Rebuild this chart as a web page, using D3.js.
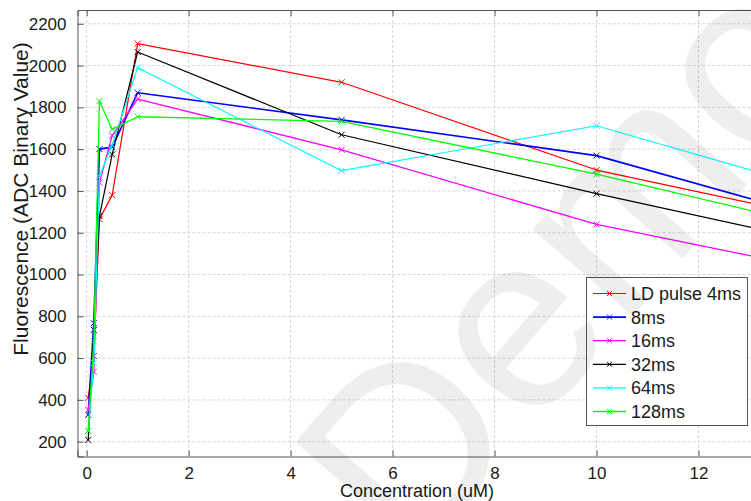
<!DOCTYPE html>
<html>
<head>
<meta charset="utf-8">
<script src="https://cdn.jsdelivr.net/npm/d3@7/dist/d3.min.js"></script>
<style>
  html, body { margin: 0; padding: 0; background: #fff; overflow: hidden; }
  svg { display: block; font-family: "Liberation Sans", Arial, sans-serif; }
</style>
</head>
<body>
<svg id="chart" width="751" height="501"></svg>
<script>
// ---- data ----
const concentrations = [0.03, 0.14, 0.25, 0.5, 1, 5, 10, 15];
const seriesNames = ["LD pulse 4ms", "8ms", "16ms", "32ms", "64ms", "128ms"];
const ld4ms   = [410, 610, 1265, 1380, 2105, 1920, 1500, 1238];
const ms8     = [328, 767, 1600, 1610, 1870, 1740, 1569, 1227];
const ms16    = [352, 535, 1440, 1665, 1840, 1597, 1240, 991];
const ms32    = [208, 735, 1280, 1575, 2065, 1669, 1387, 1121];
const ms64    = [251, 577, 1470, 1620, 1990, 1497, 1712, 1362];
const ms128   = [251, 680, 1830, 1695, 1755, 1733, 1480, 1193];
const xTickValues = [0, 2, 4, 6, 8, 10, 12];
const yTickValues = [200, 400, 600, 800, 1000, 1200, 1400, 1600, 1800, 2000, 2200];
const xLabel = "Concentration (uM)";
const yLabel = "Fluorescence (ADC Binary Value)";
const watermark = "Demo";

// ---- styles ----
const seriesColors = ["#ff0000", "#0000ff", "#ff00ff", "#000000", "#00ffff", "#00ff00"];
const seriesWidths = [1.2, 1.7, 1.3, 1.2, 1.2, 1.3];
const seriesValues = [ld4ms, ms8, ms16, ms32, ms64, ms128];

const svg = d3.select("#chart");
const plot = { left: 77.5, right: 751, top: 10, bottom: 456.5 };

const x = d3.scaleLinear().domain([-0.18, 13.03]).range([plot.left, plot.right]);
const y = d3.scaleLinear().domain([129, 2266]).range([plot.bottom, plot.top]);

const axisColor = "#555";
const textColor = "#1a1a1a";

// grid
const grid = svg.append("g");
grid.selectAll("line.gx").data(xTickValues).join("line")
  .attr("x1", d => x(d)).attr("x2", d => x(d))
  .attr("y1", plot.top).attr("y2", plot.bottom)
  .attr("stroke", "#d6d6d6").attr("stroke-width", 1).attr("stroke-dasharray", "3,2");
grid.selectAll("line.gy").data(yTickValues).join("line")
  .attr("x1", plot.left).attr("x2", plot.right)
  .attr("y1", d => y(d)).attr("y2", d => y(d))
  .attr("stroke", "#d6d6d6").attr("stroke-width", 1).attr("stroke-dasharray", "3,2");

// axes
const fontTick = 17;
const xAxisBottom = d3.axisBottom(x).tickValues(xTickValues).tickSize(-6).tickPadding(10).tickFormat(d3.format("d"));
const xAxisTop = d3.axisTop(x).tickValues(xTickValues).tickSize(-6).tickFormat("");
const yAxisLeft = d3.axisLeft(y).tickValues(yTickValues).tickSize(-6).tickPadding(11).tickFormat(d3.format("d"));

function styleAxis(g) {
  g.select(".domain").attr("stroke", axisColor).attr("stroke-width", 1);
  g.selectAll(".tick line").attr("stroke", axisColor).attr("stroke-width", 1);
  g.selectAll(".tick text").attr("fill", textColor).attr("font-size", fontTick)
    .attr("font-family", "Liberation Sans, Arial, sans-serif");
}
svg.append("g").attr("transform", `translate(0,${plot.bottom})`).call(xAxisBottom).call(styleAxis);
svg.append("g").attr("transform", `translate(0,${plot.top})`).call(xAxisTop).call(styleAxis);
svg.append("g").attr("transform", `translate(${plot.left},0)`).call(yAxisLeft).call(styleAxis);

// labels
svg.append("text").attr("x", 417).attr("y", 497)
  .attr("text-anchor", "middle").attr("font-size", 18).attr("fill", textColor).text(xLabel);
svg.append("text").attr("transform", "translate(28,199) rotate(-90)")
  .attr("text-anchor", "middle").attr("font-size", 21).attr("fill", textColor).text(yLabel);

// clip
svg.append("clipPath").attr("id", "clip").append("rect")
  .attr("x", plot.left).attr("y", plot.top - 5)
  .attr("width", plot.right - plot.left + 10).attr("height", plot.bottom - plot.top + 5);

const series = seriesNames.map((name, i) => ({
  name, color: seriesColors[i], width: seriesWidths[i],
  points: concentrations.map((c, j) => ({ c, v: seriesValues[i][j] }))
}));

const line = d3.line().x(d => x(d.c)).y(d => y(d.v));
const lines = svg.append("g").attr("clip-path", "url(#clip)");
const ms = 3;
series.forEach(s => {
  lines.append("path").datum(s.points).attr("d", line)
    .attr("fill", "none").attr("stroke", s.color).attr("stroke-width", s.width)
    .attr("stroke-linejoin", "round");
  lines.append("g").selectAll("path").data(s.points).join("path")
    .attr("d", d => {
      const cx = x(d.c), cy = y(d.v);
      return `M${cx - ms},${cy - ms}L${cx + ms},${cy + ms}M${cx - ms},${cy + ms}L${cx + ms},${cy - ms}`;
    })
    .attr("stroke", s.color).attr("stroke-width", 1).attr("fill", "none");
});

// legend
const lg = { x: 586, y: 277, w: 161, h: 148, row0: 293.5, step: 23.6 };
const legend = svg.append("g");
legend.append("rect").attr("x", lg.x + 0.5).attr("y", lg.y + 0.5).attr("width", lg.w).attr("height", lg.h)
  .attr("fill", "#fff").attr("stroke", "#555").attr("stroke-width", 1);
series.forEach((s, i) => {
  const cy = lg.row0 + i * lg.step;
  legend.append("line").attr("x1", lg.x + 7).attr("x2", lg.x + 40).attr("y1", cy).attr("y2", cy)
    .attr("stroke", s.color).attr("stroke-width", s.width);
  const cx = lg.x + 23.5;
  legend.append("path")
    .attr("d", `M${cx - 2.5},${cy - 2.5}L${cx + 2.5},${cy + 2.5}M${cx - 2.5},${cy + 2.5}L${cx + 2.5},${cy - 2.5}`)
    .attr("stroke", s.color).attr("stroke-width", 1);
  legend.append("text").attr("x", lg.x + 45).attr("y", cy + 6.5)
    .attr("font-size", 18).attr("fill", textColor).text(s.name);
});

// watermark
svg.append("text").attr("transform", "translate(565,262) rotate(-49)")
  .attr("text-anchor", "middle").attr("dominant-baseline", "central")
  .attr("font-size", 250).attr("fill", "#000").attr("fill-opacity", 0.065)
  .text(watermark);
</script>
</body>
</html>
